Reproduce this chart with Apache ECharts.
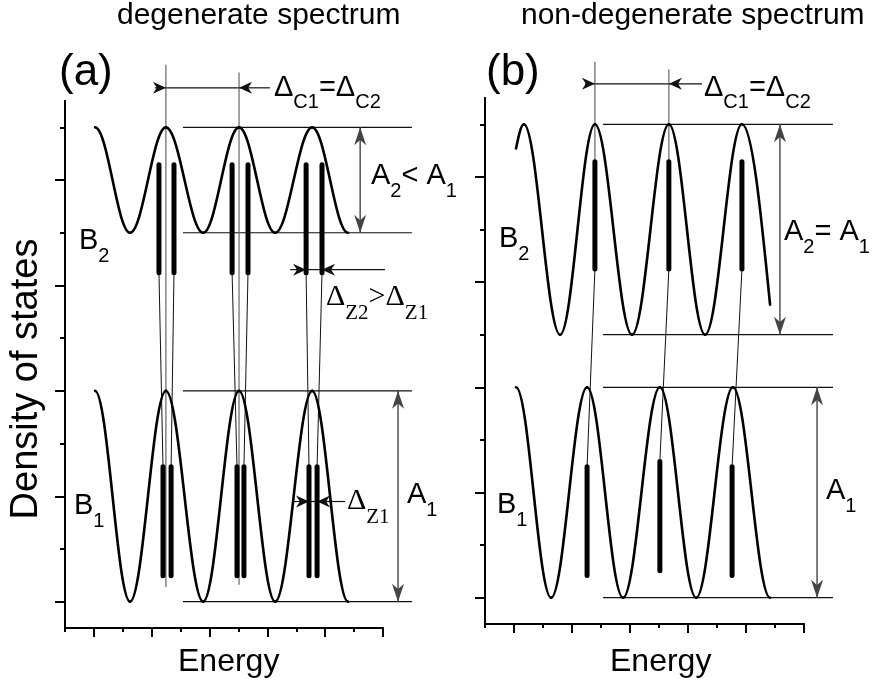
<!DOCTYPE html>
<html><head><meta charset="utf-8">
<script src="https://cdn.jsdelivr.net/npm/echarts@6/dist/echarts.min.js"></script>
<style>html,body{margin:0;padding:0;background:#fff}#c{width:879px;height:685px}</style>
</head><body><div id="c"></div>
<script>
// ---------- axis ticks (both panels) ----------
const xMajorTicks = [1, 3, 5, 7, 9, 11];
const xMinorTicks = [0, 2, 4, 6, 8, 10];
const yMajorTicks = [0, 2, 4, 6, 8];
const yMinorTicks = [1, 3, 5, 7, 9];

// ---------- panel (a): degenerate spectrum ----------
// density-of-states curves: successive maxima / minima (start and end points included)
const aCurveB2 = [[1.04,9],[2.25,7],[3.49,9],[4.78,7],[6.02,9],[7.27,7],[8.55,9],[9.79,7]];
const aCurveB1 = [[1.04,4],[2.25,0],[3.49,4],[4.78,0],[6.02,4],[7.27,0],[8.55,4],[9.79,0]];
// bars: [x, yBottom, x, yTop]
const aBarsB2 = [[3.25,6.24,3.25,8.29],[3.77,6.24,3.77,8.29],[5.78,6.24,5.78,8.29],[6.33,6.24,6.33,8.29],[8.34,6.24,8.34,8.29],[8.89,6.24,8.89,8.29]];
const aBarsB1 = [[3.39,0.49,3.39,2.56],[3.67,0.49,3.67,2.56],[5.95,0.49,5.95,2.56],[6.19,0.49,6.19,2.56],[8.44,0.49,8.44,2.56],[8.72,0.49,8.72,2.56]];
// connectors B2 bar bottom -> B1 bar top
const aLinks = [[3.25,6.24,3.39,2.56],[3.77,6.24,3.67,2.56],[5.78,6.24,5.95,2.56],[6.33,6.24,6.19,2.56],[8.34,6.24,8.44,2.56],[8.89,6.24,8.72,2.56]];
// level lines (peak / trough levels) and dimension lines
const aLevels = [[4.08,9,12.0,9],[4.08,7,12.0,7],[4.08,4,12.0,4],[4.08,0,12.0,0],[3.49,9.75,6.02,9.75],[8.34,6.30,8.89,6.30],[8.44,1.90,8.72,1.90]];
// grey guide lines through peak centres
const aGuides = [[3.49,10.19,3.49,0.28],[6.02,10.04,6.02,0.32]];
// single-headed arrows (head at second point)
const aArrows = [[3.11,9.75,3.49,9.75],[7.09,9.75,6.02,9.75],[7.79,6.30,8.34,6.30],[11.07,6.30,8.89,6.30],[7.85,1.90,8.44,1.90],[9.69,1.90,8.72,1.90]];
// double-headed arrows
const aDoubleArrows = [[10.21,9,10.21,7],[11.52,4,11.52,0]];

// ---------- panel (b): non-degenerate spectrum ----------
const bCurveB2 = [[1.07,8.54],[1.34,9],[2.59,5],[3.79,9],[5.07,5],[6.34,9],[7.59,5],[8.86,9],[9.83,5.57]];
const bCurveB1 = [[1.07,4],[2.28,0],[3.52,4],[4.76,0],[6.03,4],[7.28,0],[8.55,4],[9.83,0]];
const bBarsB2 = [[3.79,6.25,3.79,8.29],[6.34,6.25,6.34,8.29],[8.86,6.25,8.86,8.29]];
const bBarsB1 = [[3.52,0.42,3.52,2.49],[6.03,0.51,6.03,2.59],[8.52,0.42,8.52,2.49]];
const bLinks = [[3.79,6.25,3.52,2.49],[6.34,6.25,6.03,2.59],[8.86,6.25,8.52,2.49]];
const bLevels = [[4.07,9,12.0,9],[4.07,5,12.0,5],[4.07,4,12.0,4],[4.07,0,12.0,0],[3.79,9.77,6.34,9.77]];
const bGuides = [[3.79,10.19,3.79,8.29],[6.34,10.04,6.34,8.29]];
const bArrows = [[3.45,9.77,3.79,9.77],[7.48,9.77,6.34,9.77]];
const bDoubleArrows = [[10.17,9,10.17,5],[11.45,4,11.45,0]];

// ---------- drawing ----------
const SANS = 'Arial, "Liberation Sans", Helvetica, sans-serif';
const SERIF = '"Times New Roman", "Liberation Serif", serif';

function headPoints(tip, from, len, half) {
  const dx = tip[0] - from[0], dy = tip[1] - from[1];
  const d = Math.sqrt(dx * dx + dy * dy) || 1;
  const ux = dx / d, uy = dy / d, px = -uy, py = ux;
  const bx = tip[0] - ux * len, by = tip[1] - uy * len;
  const nx = tip[0] - ux * len * 0.7, ny = tip[1] - uy * len * 0.7;
  return [tip, [bx + px * half, by + py * half], [nx, ny], [bx - px * half, by - py * half]];
}

function segSeries(gi, data, opts) {
  return {
    type: 'custom', xAxisIndex: gi * 2, yAxisIndex: gi * 2, clip: false, silent: true, z: opts.z || 3,
    data: data,
    renderItem: function (params, api) {
      const p1 = api.coord([api.value(0), api.value(1)]);
      const p2 = api.coord([api.value(2), api.value(3)]);
      const children = [{
        type: 'line', shape: {x1: p1[0], y1: p1[1], x2: p2[0], y2: p2[1]},
        style: {stroke: opts.color, lineWidth: opts.width, lineCap: opts.cap || 'butt'}
      }];
      if (opts.head) {
        children.push({type: 'polygon', shape: {points: headPoints(p2, p1, opts.head[0], opts.head[1])}, style: {fill: opts.color}});
        if (opts.both) children.push({type: 'polygon', shape: {points: headPoints(p1, p2, opts.head[0], opts.head[1])}, style: {fill: opts.color}});
      }
      return {type: 'group', children: children};
    }
  };
}

// wave curve: each half period between successive extrema drawn as a cosine-like cubic;
// openStart / openEnd mark first / last points that are not extrema.
function curve(gi, pts, openStart, openEnd) {
  const segs = [];
  for (let i = 0; i < pts.length - 1; i++) {
    segs.push([pts[i][0], pts[i][1], pts[i + 1][0], pts[i + 1][1],
      (i === 0 && openStart) ? 1 : 0, (i === pts.length - 2 && openEnd) ? 1 : 0]);
  }
  const K = 0.3642;
  return {
    type: 'custom', xAxisIndex: gi * 2, yAxisIndex: gi * 2, clip: false, silent: true, z: 4,
    data: segs,
    renderItem: function (params, api) {
      const p0 = api.coord([api.value(0), api.value(1)]);
      const p3 = api.coord([api.value(2), api.value(3)]);
      const dx = p3[0] - p0[0];
      let c1 = [p0[0] + K * dx, p0[1]];
      let c2 = [p3[0] - K * dx, p3[1]];
      if (api.value(4)) c1 = [p0[0] + (c2[0] - p0[0]) * 0.5, p0[1] + (c2[1] - p0[1]) * 0.5];
      if (api.value(5)) c2 = [p3[0] + (c1[0] - p3[0]) * 0.5, p3[1] + (c1[1] - p3[1]) * 0.5];
      return {
        type: 'bezierCurve',
        shape: {x1: p0[0], y1: p0[1], cpx1: c1[0], cpy1: c1[1], cpx2: c2[0], cpy2: c2[1], x2: p3[0], y2: p3[1]},
        style: {stroke: '#000', lineWidth: 2.6, fill: null, lineCap: 'round'}
      };
    }
  };
}

function rich(x, midY, parts, o) {
  const lh = o.size + 4;
  let str = '';
  parts.forEach(p => { str += '{' + (p[1] ? 's' : 'm') + '|' + p[0] + '}'; });
  return {
    type: 'text', x: x, y: midY - lh / 2, silent: true, z: 10,
    style: {
      text: str, align: 'left', verticalAlign: 'top', textAlign: 'left', textVerticalAlign: 'top',
      rich: {
        m: {fontSize: o.size, fontFamily: o.family, lineHeight: lh, verticalAlign: 'top', fill: '#000'},
        s: {fontSize: o.sub, fontFamily: o.family, lineHeight: o.sub, verticalAlign: 'top', fill: '#000',
            padding: [lh / 2 + o.dy - o.sub / 2, 0, 0, 0]}
      }
    }
  };
}
function plain(x, y, txt, size, extra) {
  return Object.assign({
    type: 'text', x: x, y: y, silent: true, z: 10,
    style: {text: txt, fontSize: size, fontFamily: SANS, fill: '#000',
      align: 'left', verticalAlign: 'middle', textAlign: 'left', textVerticalAlign: 'middle'}
  }, extra || {});
}

const A = {size: 29, sub: 20, family: SANS, dy: 13};
const D = {size: 29, sub: 20, family: SANS, dy: 12};
const Z = {size: 30, sub: 21, family: SERIF, dy: 14};

const grids = [
  {left: 65, top: 101, width: 318, height: 527},
  {left: 485, top: 98, width: 319, height: 526}
];
const xAxes = [], yAxes = [];
[0, 1].forEach(gi => {
  const axLine = {onZero: false, lineStyle: {color: '#000', width: 2}};
  xAxes.push({gridIndex: gi, type: 'value', min: 0, max: 11, position: 'bottom', axisLine: axLine,
    axisTick: {customValues: xMajorTicks, length: 9, lineStyle: {color: '#000', width: 2}},
    axisLabel: {show: false}, splitLine: {show: false}});
  xAxes.push({gridIndex: gi, type: 'value', min: 0, max: 11, position: 'bottom', axisLine: axLine,
    axisTick: {customValues: xMinorTicks, length: 4, lineStyle: {color: '#000', width: 2}},
    axisLabel: {show: false}, splitLine: {show: false}});
  yAxes.push({gridIndex: gi, type: 'value', min: -0.5, max: 9.5, position: 'left', axisLine: axLine,
    axisTick: {customValues: yMajorTicks, length: 10, lineStyle: {color: '#000', width: 2}},
    axisLabel: {show: false}, splitLine: {show: false}});
  yAxes.push({gridIndex: gi, type: 'value', min: -0.5, max: 9.5, position: 'left', axisLine: axLine,
    axisTick: {customValues: yMinorTicks, length: 5, lineStyle: {color: '#000', width: 2}},
    axisLabel: {show: false}, splitLine: {show: false}});
});

const series = [
  curve(0, aCurveB2, false, false), curve(0, aCurveB1, false, false),
  curve(1, bCurveB2, true, true), curve(1, bCurveB1, false, false),
  segSeries(0, aBarsB2, {color: '#000', width: 5, cap: 'round', z: 5}),
  segSeries(0, aBarsB1, {color: '#000', width: 5, cap: 'round', z: 5}),
  segSeries(1, bBarsB2, {color: '#000', width: 5, cap: 'round', z: 5}),
  segSeries(1, bBarsB1, {color: '#000', width: 5, cap: 'round', z: 5}),
  segSeries(0, aLinks, {color: '#111', width: 1}),
  segSeries(1, bLinks, {color: '#111', width: 1}),
  segSeries(0, aLevels, {color: '#111', width: 1.2}),
  segSeries(1, bLevels, {color: '#111', width: 1.2}),
  segSeries(0, aGuides, {color: '#666', width: 1.2}),
  segSeries(1, bGuides, {color: '#666', width: 1.2}),
  segSeries(0, aArrows, {color: '#111', width: 1.2, head: [13, 6]}),
  segSeries(1, bArrows, {color: '#111', width: 1.2, head: [13, 6]}),
  segSeries(0, aDoubleArrows, {color: '#444', width: 1.4, head: [18, 6], both: true}),
  segSeries(1, bDoubleArrows, {color: '#444', width: 1.4, head: [18, 6], both: true})
];

const graphic = [
  plain(117, 16, 'degenerate spectrum', 30),
  plain(521, 16, 'non-degenerate spectrum', 30),
  plain(59, 73, '(a)', 44),
  plain(486, 73, '(b)', 44),
  plain(178, 662, 'Energy', 32),
  plain(610, 662, 'Energy', 32),
  plain(27, 379, 'Density of states', 38, {rotation: Math.PI / 2, style: {text: 'Density of states', fontSize: 38, fontFamily: SANS, fill: '#000', align: 'center', verticalAlign: 'middle', textAlign: 'center', textVerticalAlign: 'middle'}}),
  rich(274, 90, [['\u0394', 0], ['C1', 1], ['=\u0394', 0], ['C2', 1]], D),
  rich(704, 90, [['\u0394', 0], ['C1', 1], ['=\u0394', 0], ['C2', 1]], D),
  rich(371, 178, [['A', 0], ['2', 1], ['< A', 0], ['1', 1]], A),
  rich(784, 234, [['A', 0], ['2', 1], ['= A', 0], ['1', 1]], A),
  rich(407, 497, [['A', 0], ['1', 1]], A),
  rich(826, 493, [['A', 0], ['1', 1]], A),
  rich(79, 243, [['B', 0], ['2', 1]], A),
  rich(74, 508, [['B', 0], ['1', 1]], A),
  rich(499, 241, [['B', 0], ['2', 1]], A),
  rich(497, 507, [['B', 0], ['1', 1]], A),
  rich(326, 299, [['\u0394', 0], ['Z2', 1], ['>\u0394', 0], ['Z1', 1]], Z),
  rich(347, 503, [['\u0394', 0], ['Z1', 1]], Z)
];

const chart = echarts.init(document.getElementById('c'), null, {renderer: 'canvas'});
chart.setOption({
  animation: false,
  backgroundColor: '#fff',
  grid: grids,
  xAxis: xAxes,
  yAxis: yAxes,
  series: series,
  graphic: graphic
});
</script>
</body></html>
